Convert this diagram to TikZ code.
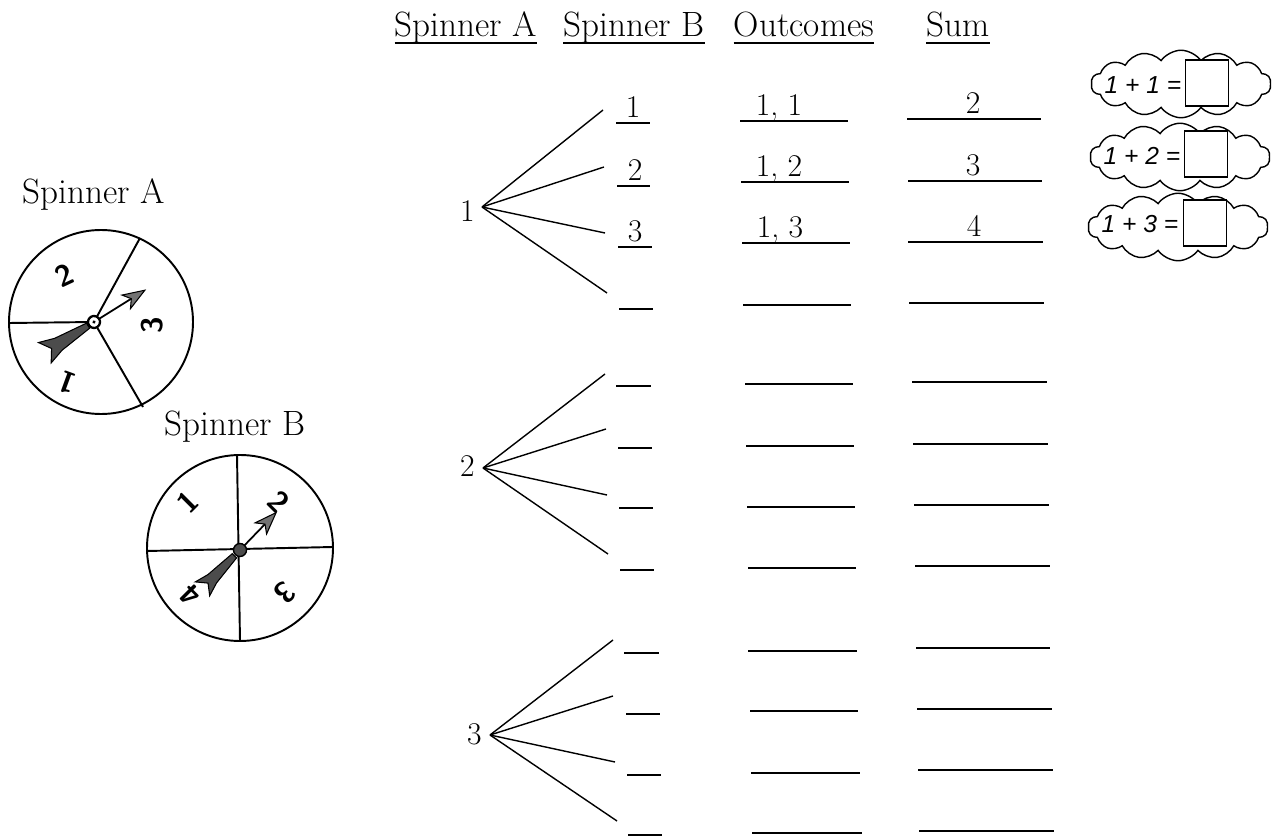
\documentclass[tikz,border=0pt]{standalone}
\usepackage{fontspec}
\newfontfamily\cloudfont{Liberation Sans}
\usetikzlibrary{shapes.symbols}
\begin{document}
\begin{tikzpicture}[x=0.02cm,y=-0.02cm,
  lbl/.style={font=\fontsize{18}{20}\selectfont, inner sep=0pt, anchor=base},
  hdr/.style={font=\fontsize{20}{22}\selectfont, inner sep=0pt, anchor=base},
  branch/.style={line width=0.8pt},
  uline/.style={line width=1pt},
  rim/.style={line width=1.1pt},
  spnum/.style={font=\sffamily\bfseries\fontsize{17}{18}\selectfont, inner sep=0pt},
  eqtxt/.style={font=\cloudfont\itshape\fontsize{14}{16}\selectfont, inner sep=0pt},
  ansbox/.style={draw, fill=white, line width=0.8pt, minimum width=0.86cm, minimum height=0.92cm, inner sep=0pt},
  thought/.style={cloud, draw, line width=0.8pt, cloud puffs=14, cloud puff arc=110, inner sep=0pt, minimum width=3.6cm, minimum height=1.35cm},
  fletch/.style={fill=black!70, draw=black, line width=0.6pt},
  tiphead/.style={fill=black!55, draw=black, line width=0.6pt}
]
\useasboundingbox (0,0) rectangle (1277,837);

% ---------- headers ----------
\node[hdr] (hA) at (466,37) {Spinner A};
\node[hdr] (hB) at (634,37) {Spinner B};
\node[hdr] (hO) at (804,37) {Outcomes};
\node[hdr] (hS) at (958,37) {Sum};
\foreach \n in {hA,hB,hO,hS}
  \draw[uline] ([yshift=-0.12cm]\n.base west) -- ([yshift=-0.12cm]\n.base east);

% ---------- tree roots ----------
\node[lbl, anchor=base east] (r1) at (475,222) {1};
\node[lbl, anchor=base east] (r2) at (475,477) {2};
\node[lbl, anchor=base east] (r3) at (482,744) {3};
\coordinate (v1) at (482,207);
\coordinate (v2) at (483,468);
\coordinate (v3) at (490,735);

% branch ends
\coordinate (e11) at (603,110); \coordinate (e12) at (604,167);
\coordinate (e13) at (605,233); \coordinate (e14) at (607,293);
\coordinate (e21) at (605,374); \coordinate (e22) at (606,429);
\coordinate (e23) at (607,495); \coordinate (e24) at (608,554);
\coordinate (e31) at (613,640); \coordinate (e32) at (613,696);
\coordinate (e33) at (615,762); \coordinate (e34) at (617,821);
\foreach \g in {1,2,3}
  \foreach \k in {1,2,3,4}
    \draw[branch] (v\g) -- (e\g\k);

% ---------- answer lines ----------
\foreach \xa/\xb/\yy in {616/650/123,617/650/186,618/652/247,619/653/309,
                         616/651/386,618/652/448,619/653/508,620/654/570,
                         624/659/653,626/660/714,627/661/775,628/662/835,
                         740/848/121,741/849/182,742/850/243,743/851/305,
                         745/853/384,746/854/446,747/855/507,748/856/568,
                         748/857/651,750/858/711,751/860/773,752/862/833,
                         907/1041/119,908/1042/181,908/1043/242,909/1044/303,
                         912/1047/382,913/1048/444,914/1049/505,915/1050/566,
                         916/1050/648,917/1052/709,918/1053/770,919/1054/831}
  \draw[uline] (\xa,\yy) -- (\xb,\yy);

% filled answers
\node[lbl] (b11) at (633,118) {1};
\node[lbl] (b12) at (635,181) {2};
\node[lbl] (b13) at (635,242) {3};
\node[lbl] (o11) at (779,116) {1, 1};
\node[lbl] (o12) at (779,177) {1, 2};
\node[lbl] (o13) at (780,238) {1, 3};
\node[lbl] (s11) at (973,114) {2};
\node[lbl] (s12) at (973,176) {3};
\node[lbl] (s13) at (974,237) {4};

% ---------- thought clouds ----------
\node[thought] (c1) at (1181,84) {};
\node[thought] (c2) at (1180,157) {};
\node[thought] (c3) at (1178,227) {};
\node[eqtxt] (t1) at (1143,85) {1 + 1 =};
\node[eqtxt] (t2) at (1142,156) {1 + 2 =};
\node[eqtxt] (t3) at (1140,224) {1 + 3 =};
\node[ansbox] (q1) at (1207,83) {};
\node[ansbox] (q2) at (1206,154) {};
\node[ansbox] (q3) at (1205,223) {};

% ---------- Spinner A ----------
\node[hdr] (la) at (94,204) {Spinner A};
\draw[rim] (101,322) circle (92);
\coordinate (ha) at (94,322);
\draw[rim] (ha) -- (9,323);
\draw[rim] (ha) -- (140,238);
\draw[rim] (ha) -- (143,407);
\node[spnum, rotate=25] (a2) at (64,275) {2};
\node[spnum, rotate=90] (a3) at (152,325) {3};
\node[spnum, rotate=160] (a1) at (67,383) {1};
\begin{scope}[shift={(ha)}, rotate=32]
  \draw[line width=1pt] (5,0) -- (50,0);
  \filldraw[tiphead] (60,0) -- (38,-8) -- (44,0) -- (38,8) -- cycle;
  \filldraw[fletch] (-7,-3) -- (-42,-7) -- (-58,-12) -- (-50,0) -- (-58,12) -- (-42,7) -- (-7,3) -- cycle;
  \filldraw[fill=white, draw=black, line width=1.3pt] (0,0) circle (6);
  \fill (0,0) circle (1.8);
\end{scope}

% ---------- Spinner B ----------
\node[hdr] (lb) at (235,436) {Spinner B};
\draw[rim] (240,548) circle (93);
\coordinate (hb) at (240,550);
\draw[rim] (237,455) -- (240,641);
\draw[rim] (147,551) -- (333,547);
\node[spnum, rotate=45] (n1) at (188,502) {1};
\node[spnum, rotate=-45] (n2) at (279,502) {2};
\node[spnum, rotate=-135] (n3) at (285,593) {3};
\node[spnum, rotate=135] (n4) at (190,595) {4};
\begin{scope}[shift={(hb)}, rotate=46]
  \draw[line width=1pt] (5,0) -- (42,0);
  \filldraw[tiphead] (52,0) -- (30,-8) -- (36,0) -- (30,8) -- cycle;
  \filldraw[fletch] (-8,-3) -- (-40,-6) -- (-54,-10) -- (-46,0) -- (-54,10) -- (-40,6) -- (-8,3) -- cycle;
  \filldraw[fill=black!70, draw=black, line width=0.8pt] (0,0) circle (6.5);
\end{scope}
\end{tikzpicture}
\end{document}
